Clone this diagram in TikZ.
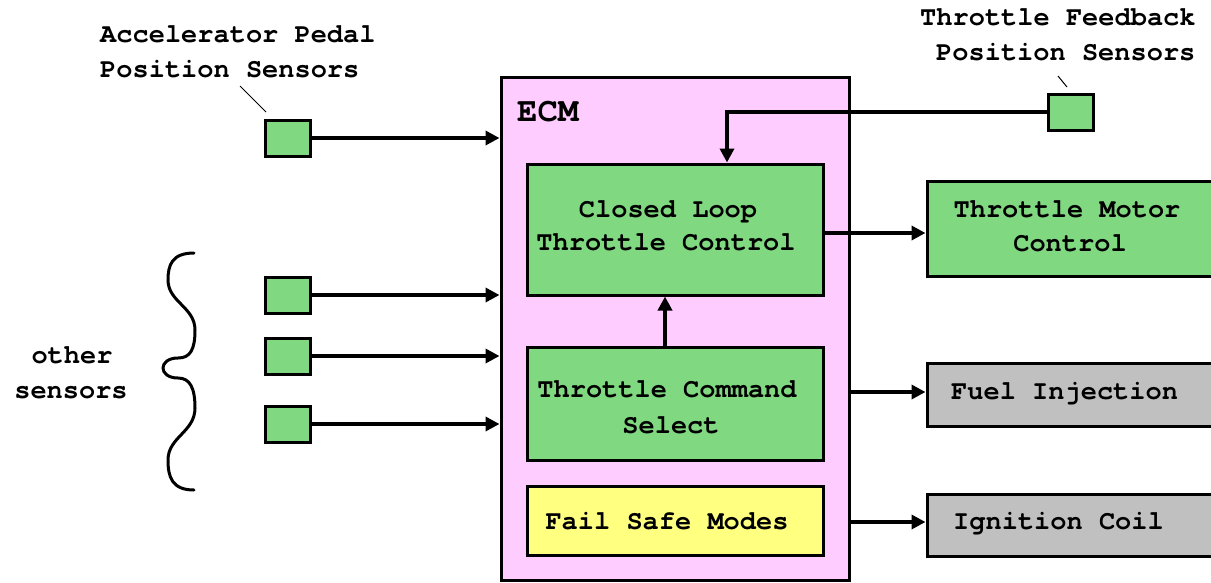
\documentclass[tikz,border=0pt]{standalone}
\usepackage{fontspec}
\setmonofont{TeX Gyre Cursor}
\usetikzlibrary{arrows.meta}

\definecolor{ecmpink}{HTML}{FFCCFF}
\definecolor{blockgreen}{HTML}{80D880}
\definecolor{failyellow}{HTML}{FFFF80}
\definecolor{outgray}{HTML}{C0C0C0}

\tikzset{
  box/.style={draw=black, line width=3pt, inner sep=0pt, rectangle},
  sensorbox/.style={box, fill=blockgreen, minimum width=45pt, minimum height=36pt},
  txt/.style={inner sep=0pt, font=\ttfamily\bfseries\fontsize{27}{33}\selectfont},
  arr/.style={line width=4pt, -{Triangle[length=14pt,width=14pt]}},
  leader/.style={line width=1pt},
}

\begin{document}
\begin{tikzpicture}[x=1pt, y=-1pt]
\useasboundingbox (0,0) rectangle (1211,582);

% engine control module and its inner blocks
\node[box, fill=ecmpink, minimum width=348pt, minimum height=503pt] (ecm) at (675,328.5) {};
\node[box, fill=blockgreen, minimum width=296pt, minimum height=131pt] (clc) at (675,229.5) {};
\node[box, fill=blockgreen, minimum width=296pt, minimum height=113pt] (tcs) at (675,403.5) {};
\node[box, fill=failyellow, minimum width=296pt, minimum height=69pt] (fsm) at (675,520.5) {};

% output blocks (running off the right edge)
\node[box, fill=blockgreen, minimum width=289pt, minimum height=95pt] (tmc) at (1071.5,228.5) {};
\node[box, fill=outgray, minimum width=289pt, minimum height=63pt] (fuel) at (1071.5,394.5) {};
\node[box, fill=outgray, minimum width=289pt, minimum height=62pt] (ign) at (1071.5,525) {};

% sensors
\node[sensorbox] (aps) at (287.5,138) {};
\node[sensorbox] (tfs) at (1070.5,112) {};
\node[sensorbox] (s1) at (287.5,295) {};
\node[sensorbox] (s2) at (287.5,356) {};
\node[sensorbox] (s3) at (287.5,424) {};

% texts
\node[txt, anchor=base west] (apsA) at (100,42) {Accelerator Pedal};
\node[txt, anchor=base west] (apsB) at (100,77) {Position Sensors};
\node[txt, anchor=base west] (tfsA) at (920,25) {Throttle Feedback};
\node[txt, anchor=base west] (tfsB) at (936,60) {Position Sensors};
\node[inner sep=0pt, anchor=base west, font=\ttfamily\bfseries\fontsize{34}{40}\selectfont] (ecmlabel) at (517,121) {ECM};
\node[txt, anchor=base] (clcA) at (668,217) {Closed Loop};
\node[txt, anchor=base] (clcB) at (666,250) {Throttle Control};
\node[txt, anchor=base] (tcsA) at (667,397) {Throttle Command};
\node[txt, anchor=base] (tcsB) at (671,433) {Select};
\node[txt, anchor=base] (fsmA) at (667,529) {Fail Safe Modes};
\node[txt, anchor=base] (tmcA) at (1067,217) {Throttle Motor};
\node[txt, anchor=base] (tmcB) at (1070,251) {Control};
\node[txt, anchor=base west] (fuelA) at (951,399) {Fuel Injection};
\node[txt, anchor=base west] (ignA) at (953,529) {Ignition Coil};
\node[txt, anchor=base] (othA) at (72,363) {other};
\node[txt, anchor=base] (othB) at (71,398) {sensors};

% leader marks
\coordinate (apsL1) at (240,86);
\coordinate (apsL2) at (266,112);
\coordinate (tfsL1) at (1058,76);
\coordinate (tfsL2) at (1067,87);
\draw[leader] (apsL1) -- (apsL2);
\draw[leader] (tfsL1) -- (tfsL2);

% signal flow
\draw[arr] (aps.east) -- (aps -| ecm.west);
\draw[arr] (s1.east) -- (s1 -| ecm.west);
\draw[arr] (s2.east) -- (s2 -| ecm.west);
\draw[arr] (s3.east) -- (s3 -| ecm.west);
\draw[arr] (tfs.west) -| ([xshift=52pt]clc.north);
\draw[arr] ([xshift=-10pt]tcs.north) -- ([xshift=-10pt]clc.south);
\draw[arr] ([yshift=-3.5pt]clc.east) -- ([yshift=-3.5pt]clc.east -| tmc.west);
\draw[arr] ([yshift=2.5pt]fuel.west -| ecm.east) -- ([yshift=2.5pt]fuel.west);
\draw[arr] ([yshift=3pt]ign.west -| ecm.east) -- ([yshift=3pt]ign.west);

% curly brace grouping the other sensors
\draw[line width=3pt, line cap=round]
  (194,253) .. controls (172,253) and (168,265) .. (168,280)
  .. controls (168,302) and (195,307) .. (195,330)
  .. controls (195,350) and (190,358) .. (178,358)
  .. controls (168,358) and (163,363) .. (163,368)
  .. controls (163,373) and (168,378) .. (178,378)
  .. controls (190,378) and (195,388) .. (195,408)
  .. controls (195,432) and (168,437) .. (168,460)
  .. controls (168,477) and (172,490) .. (194,490);
\end{tikzpicture}
\end{document}
